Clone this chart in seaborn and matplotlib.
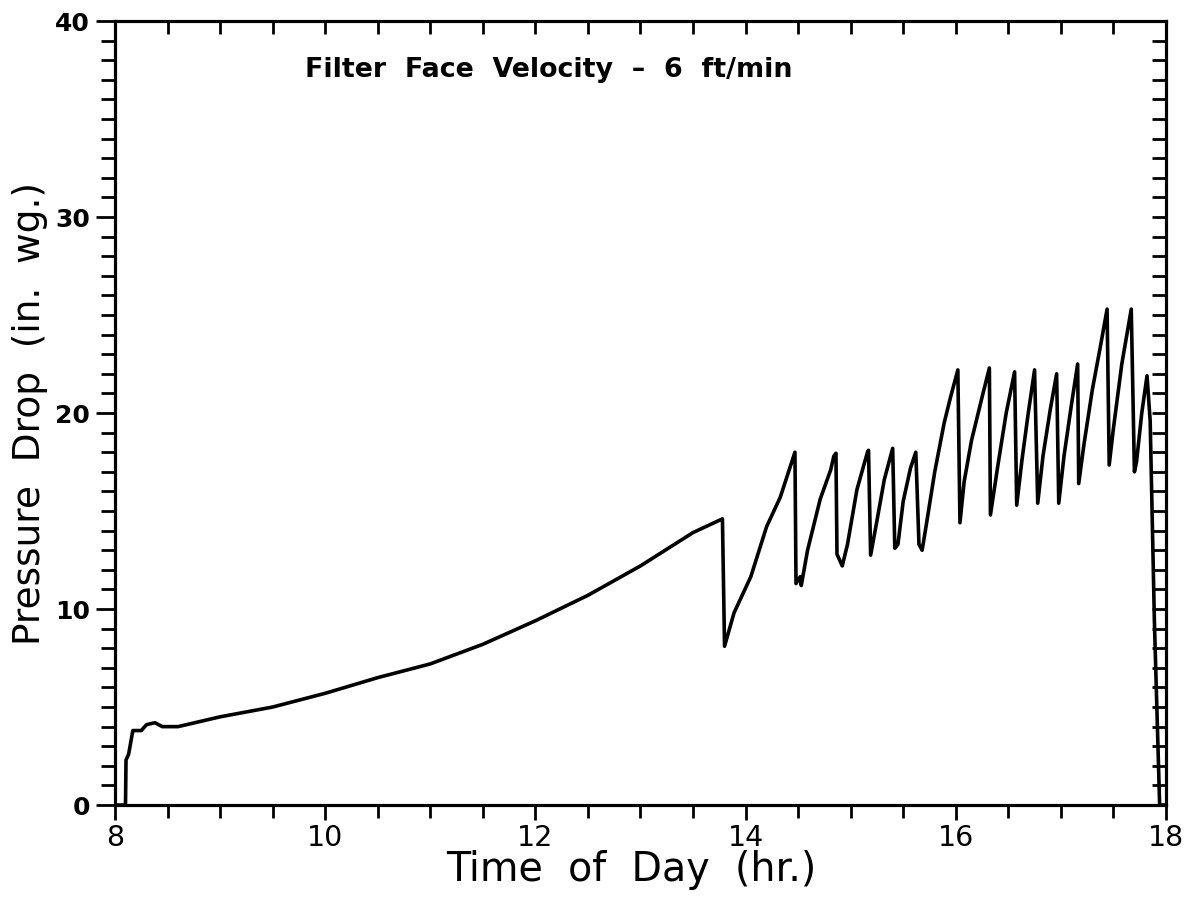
import matplotlib
matplotlib.use("Agg")
import matplotlib.pyplot as plt
import seaborn as sns
import pandas as pd
import numpy as np
from matplotlib.ticker import MultipleLocator

# Data
time_hr = [8.0, 8.10, 8.105, 8.13, 8.17, 8.25, 8.30, 8.38, 8.45, 8.60, 9.0, 9.5,
           10.0, 10.5, 11.0, 11.5, 12.0, 12.5, 13.0, 13.5, 13.78,
           13.80, 13.89, 14.05, 14.20, 14.33, 14.47,
           14.48, 14.52, 14.53, 14.59, 14.71, 14.81, 14.84, 14.86,
           14.87, 14.92, 14.97, 15.06, 15.16, 15.17,
           15.19, 15.25, 15.32, 15.40,
           15.42, 15.45, 15.50, 15.57, 15.62,
           15.65, 15.68, 15.72, 15.80, 15.89, 15.95, 16.02,
           16.04, 16.08, 16.15, 16.25, 16.32,
           16.33, 16.40, 16.48, 16.56,
           16.58, 16.63, 16.69, 16.75,
           16.78, 16.83, 16.90, 16.96,
           16.98, 17.03, 17.10, 17.16,
           17.17, 17.22, 17.30, 17.38, 17.44,
           17.46, 17.50, 17.58, 17.67,
           17.70, 17.72, 17.77, 17.82,
           17.85, 17.89, 17.94, 18.0]
pressure = [0.0, 0.0, 2.3, 2.6, 3.8, 3.8, 4.1, 4.2, 4.0, 4.0, 4.5, 5.0,
            5.7, 6.5, 7.2, 8.2, 9.4, 10.7, 12.2, 13.9, 14.6,
            8.1, 9.8, 11.65, 14.2, 15.7, 18.0,
            11.3, 11.65, 11.2, 13.0, 15.6, 17.1, 17.8, 17.95,
            12.8, 12.2, 13.3, 16.1, 18.0, 18.1,
            12.75, 14.5, 16.6, 18.2,
            13.1, 13.3, 15.5, 17.2, 18.0,
            13.3, 13.0, 14.3, 17.0, 19.5, 20.8, 22.2,
            14.4, 16.5, 18.6, 20.8, 22.3,
            14.8, 17.3, 20.0, 22.1,
            15.3, 17.6, 20.0, 22.2,
            15.4, 17.8, 20.2, 22.0,
            15.4, 17.8, 20.4, 22.5,
            16.4, 18.4, 21.2, 23.5, 25.3,
            17.35, 19.2, 22.5, 25.3,
            17.0, 17.5, 20.0, 21.9,
            19.6, 9.4, 0.0, 0.0]

x_ticks = [8, 10, 12, 14, 16, 18]
y_ticks = [0, 10, 20, 30, 40]

df = pd.DataFrame({"time": time_hr, "dp": pressure})

sns.set_style("ticks")
plt.rcParams["font.family"] = ["DejaVu Sans"]
plt.rcParams["text.color"] = "black"
plt.rcParams["axes.labelcolor"] = "black"
plt.rcParams["xtick.color"] = "black"
plt.rcParams["ytick.color"] = "black"

fig = plt.figure(figsize=(11.94, 9.02), dpi=100)
ax = fig.add_axes([0.0963, 0.1075, 0.8802, 0.8692])

sns.lineplot(data=df, x="time", y="dp", ax=ax, color="black", linewidth=2.6,
             sort=False, estimator=None)

ax.set_xlim(8, 18)
ax.set_ylim(0, 40)
ax.set_xticks(x_ticks)
ax.set_yticks(y_ticks)
ax.set_xticklabels([str(v) for v in x_ticks], fontsize=20.5)
ax.set_yticklabels([str(v) for v in y_ticks], fontsize=18, fontweight="bold")
ax.xaxis.set_minor_locator(MultipleLocator(0.5))
ax.yaxis.set_minor_locator(MultipleLocator(1))

for s in ax.spines.values():
    s.set_linewidth(2.2)
    s.set_color("black")

ax.tick_params(axis="x", which="major", direction="out", length=11, width=2, pad=3)
ax.tick_params(axis="x", which="minor", direction="out", length=9, width=2)
ax.tick_params(axis="y", which="major", direction="out", length=14, width=2, pad=4)
ax.tick_params(axis="y", which="minor", direction="out", length=10, width=2)

# inward ticks on top and right via twin axes
axt = ax.twiny()
axt.set_xlim(8, 18)
axt.set_xticks(x_ticks)
axt.xaxis.set_minor_locator(MultipleLocator(0.5))
axt.tick_params(axis="x", which="both", direction="in", top=True, bottom=False,
                labeltop=False, length=9, width=2)
axr = ax.twinx()
axr.set_ylim(0, 40)
axr.set_yticks(y_ticks)
axr.yaxis.set_minor_locator(MultipleLocator(1))
axr.tick_params(axis="y", which="both", direction="in", right=True, left=False,
                labelright=False, length=10, width=2)
for a in (axt, axr):
    for s in a.spines.values():
        s.set_linewidth(2.2)
        s.set_color("black")

ax.set_xlabel("Time  of  Day  (hr.)", fontsize=28.5)
ax.set_ylabel("Pressure  Drop  (in.  wg.)", fontsize=27)
ax.xaxis.set_label_coords(0.491, -0.057)
ax.yaxis.set_label_coords(-0.064, 0.5)

ax.text(0.181, 0.9375, "Filter  Face  Velocity  \u2013  6  ft/min", transform=ax.transAxes,
        fontsize=19.4, fontweight="bold", ha="left", va="center")

fig.savefig("out.png", dpi=100)
